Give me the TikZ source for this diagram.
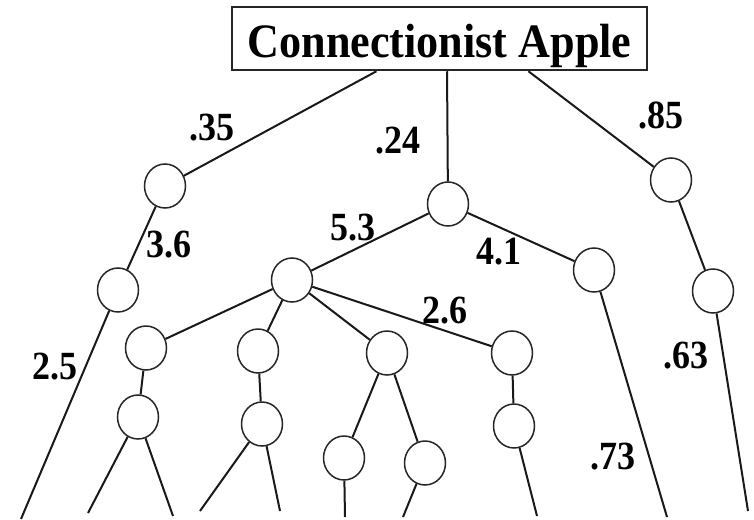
\documentclass[tikz,border=0pt]{standalone}
\usepackage{fontspec}
\setmainfont{Liberation Serif}
\usetikzlibrary{shapes.geometric,calc}
\newcommand{\wtext}[1]{\scalebox{0.9}[1]{#1}}
\begin{document}
\begin{tikzpicture}[x=1pt,y=-1pt,
  unit/.style={draw=black!85, line width=1.5pt, ellipse, minimum width=41pt, minimum height=44pt, inner sep=0pt},
  link/.style={line width=2pt, draw=black!90},
  wlabel/.style={font=\fontsize{40}{40}\selectfont\bfseries, inner sep=0pt},
  titlebox/.style={draw=black!85, line width=2.5pt, minimum width=415pt, minimum height=63pt, inner sep=0pt, text height=37pt, text depth=0pt, font=\fontsize{48}{48}\selectfont\bfseries}]
\useasboundingbox (0,0) rectangle (754,519);
% title
\node[titlebox] (title) at (439.5,38.5) {\scalebox{0.92}[1]{Connectionist Apple}};
\coordinate (tl) at ($(title.south west)!0.349!(title.south east)$);
\coordinate (tm) at ($(title.south west)!0.518!(title.south east)$);
\coordinate (tr) at ($(title.south west)!0.713!(title.south east)$);
% units
\node[unit] (L1) at (165,186) {};
\node[unit] (L2) at (118,290) {};
\node[unit] (M1) at (448,204) {};
\node[unit] (M2) at (292,280) {};
\node[unit] (M3) at (594,270) {};
\node[unit] (R1) at (671,180) {};
\node[unit] (R2) at (713,291) {};
\node[unit] (A) at (146,348) {};
\node[unit] (A2) at (138,417) {};
\node[unit] (B) at (258,351) {};
\node[unit] (B2) at (262,424) {};
\node[unit] (C) at (387,353) {};
\node[unit] (C1) at (344,458) {};
\node[unit] (C2) at (425,463) {};
\node[unit] (D) at (512,353) {};
\node[unit] (D2) at (514,426) {};
% free ends
\coordinate (eL) at (21,519);
\coordinate (eA1) at (88,513);
\coordinate (eA2) at (173,516);
\coordinate (eB1) at (200,511);
\coordinate (eB2) at (280,511);
\coordinate (eC1) at (345,517);
\coordinate (eC2) at (403,517);
\coordinate (eD) at (537,516);
\coordinate (eM3) at (667,517);
\coordinate (eR) at (748,511);
% connectors
\draw[link] (tl) -- (L1);
\draw[link] (tm) -- (M1);
\draw[link] (tr) -- (R1);
\draw[link] (L1) -- (L2);
\draw[link] (L2) -- (eL);
\draw[link] (M1) -- (M2);
\draw[link] (M1) -- (M3);
\draw[link] (M3) -- (eM3);
\draw[link] (R1) -- (R2);
\draw[link] (R2) -- (eR);
\draw[link] (M2) -- (A);
\draw[link] (M2) -- (B);
\draw[link] (M2) -- (C);
\draw[link] (M2) -- (D);
\draw[link] (A) -- (A2);
\draw[link] (A2) -- (eA1);
\draw[link] (A2) -- (eA2);
\draw[link] (B) -- (B2);
\draw[link] (B2) -- (eB1);
\draw[link] (B2) -- (eB2);
\draw[link] (C) -- (C1);
\draw[link] (C) -- (C2);
\draw[link] (C1) -- (eC1);
\draw[link] (C2) -- (eC2);
\draw[link] (D) -- (D2);
\draw[link] (D2) -- (eD);
% weight labels
\node[wlabel] (w35) at (212,128) {\wtext{.35}};
\node[wlabel] (w24) at (398,141) {\wtext{.24}};
\node[wlabel] (w85) at (661,115) {\wtext{.85}};
\node[wlabel] (w36) at (169,245) {\wtext{3.6}};
\node[wlabel] (w53) at (353,228) {\wtext{5.3}};
\node[wlabel] (w41) at (499,252) {\wtext{4.1}};
\node[wlabel] (w26) at (445,311) {\wtext{2.6}};
\node[wlabel] (w25) at (55,367) {\wtext{2.5}};
\node[wlabel] (w73) at (613,457) {\wtext{.73}};
\node[wlabel] (w63) at (686,356) {\wtext{.63}};
\end{tikzpicture}
\end{document}
